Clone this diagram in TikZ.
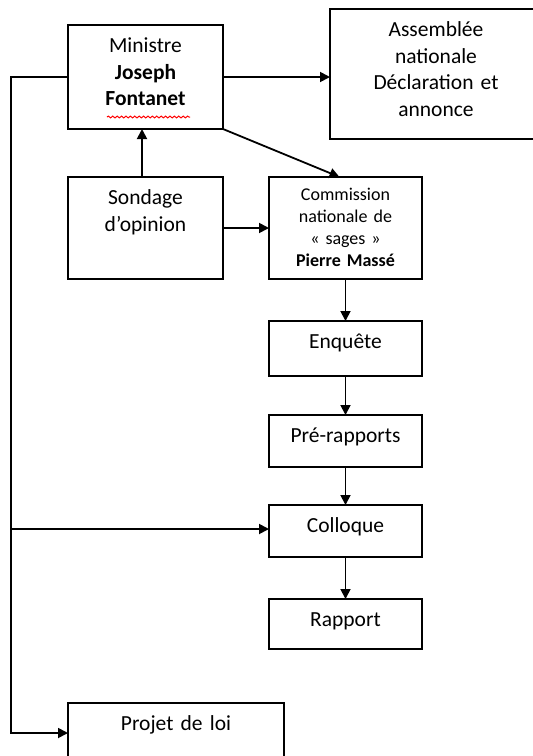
\documentclass[tikz,border=0pt]{standalone}
\usepackage{fontspec}
\setmainfont{Carlito}
\usetikzlibrary{positioning, arrows.meta, decorations.pathmorphing}
\tikzset{
  boite/.style={draw, line width=0.9pt, outer sep=0pt, align=center, font=\fontsize{10.75pt}{13.3pt}\selectfont, inner xsep=0pt, inner ysep=4pt, text height=9.75pt},
  petit/.style={font=\fontsize{9pt}{11.15pt}\selectfont, text height=7.5pt},
  fleche/.style={-{Triangle[length=5pt,width=5pt]}, line width=0.9pt},
  vague/.style={red, line width=0.5pt, decorate, decoration={snake, amplitude=0.45pt, segment length=2.2pt}}
}

\begin{document}
\begin{tikzpicture}
  \useasboundingbox (0,0) rectangle (266pt,-378pt);

  \node[boite,text width=77.5pt,text depth=34.25pt] (mini) at (72.75pt,-38.5pt) {Ministre\\\textbf{Joseph}\\\textbf{Fontanet}};
  \node[boite,right=54pt of mini,yshift=1.5pt,text width=106pt,text depth=47.25pt,xshift=-0.5pt] (asm) {Assemblée\\nationale\\Déclaration et\\annonce};
  \node[boite,below=24pt of mini,text width=77.5pt,text depth=33.25pt] (sond) {Sondage\\d’opinion};
  \node[boite,petit,right=23pt of sond,text width=76.5pt,text depth=35.5pt] (comm) {Commission\\nationale de\\« sages »\\\textbf{Pierre Massé}};

  \node[boite,below=21pt of comm,text width=76.5pt,text depth=9.75pt] (enq) {Enquête};
  \node[boite,below=19.5pt of enq,text width=76.5pt,text depth=8.25pt] (prerap) {Pré-rapports};
  \node[boite,below=19pt of prerap,text width=76.5pt,text depth=8.25pt] (coll) {Colloque};
  \node[boite,below=21pt of coll,text width=76.5pt,text depth=7.25pt] (rap) {Rapport};
  \node[boite,anchor=north west,text width=108pt,text depth=40pt] (proj) at (34pt,-351.5pt) {Projet de loi};

  \coordinate (gauche) at (5.5pt,-38.5pt);

  % soulignement du correcteur
  \draw[vague] ([xshift=-19.25pt,yshift=6pt]mini.south) -- ++(41.5pt,0);

  \draw[fleche] (mini.east) -- (mini.east -| asm.west);
  \draw[fleche] ([xshift=-1.75pt]sond.north) -- ([xshift=-1.75pt]mini.south);
  \draw[fleche] (mini.south east) -- ([xshift=-3pt]comm.north);
  \draw[fleche] (sond) -- (comm);
  \draw[fleche] (comm) -- (enq);
  \draw[fleche] (enq) -- (prerap);
  \draw[fleche] (prerap) -- (coll);
  \draw[fleche] (coll) -- (rap);
  \draw[fleche] (mini.west) -- (gauche) |- ([yshift=-15pt]proj.north west);
  \draw[fleche] (gauche) |- ([yshift=1pt]coll.west);
\end{tikzpicture}
\end{document}
